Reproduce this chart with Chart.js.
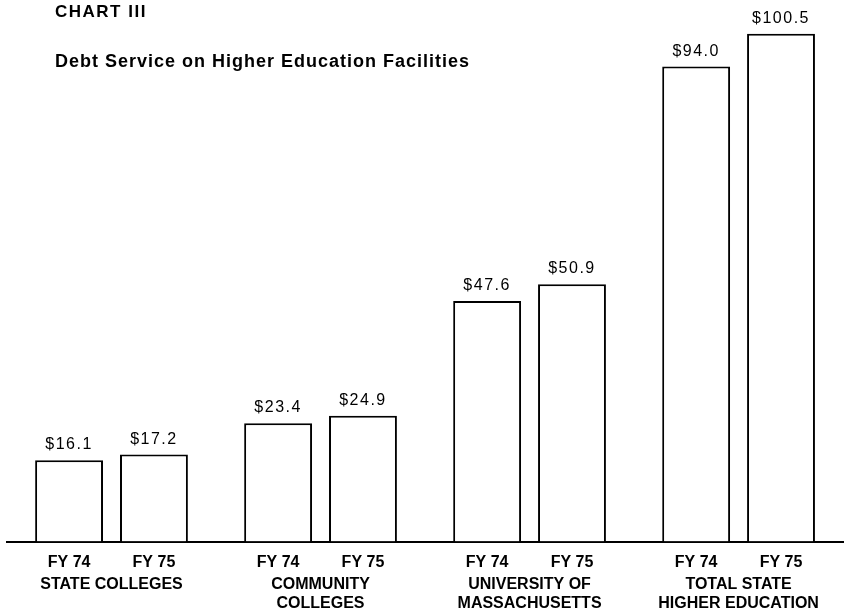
<!DOCTYPE html>
<html>
<head>
<meta charset="utf-8">
<script src="https://cdn.jsdelivr.net/npm/chart.js@4.4.0/dist/chart.umd.min.js"></script>
<style>
  html, body { margin: 0; padding: 0; background: #fff; }
</style>
</head>
<body>
<canvas id="debtChart" width="853" height="613"></canvas>
<script>
// Data (millions of dollars)
const groups = [
    ['STATE COLLEGES'],
    ['COMMUNITY', 'COLLEGES'],
    ['UNIVERSITY OF', 'MASSACHUSETTS'],
    ['TOTAL STATE', 'HIGHER EDUCATION']
];
const years = ['FY 74', 'FY 75'];
const fy74 = [16.1, 23.4, 47.6, 94.0];
const fy75 = [17.2, 24.9, 50.9, 100.5];
const valueLabels = [
    ['$16.1', '$23.4', '$47.6', '$94.0'],
    ['$17.2', '$24.9', '$50.9', '$100.5']
];

const FONT = "'Liberation Sans', Arial, Helvetica, sans-serif";

// Titles, value labels above bars and FY labels under each bar
const annotate = {
    id: 'annotate',
    afterDatasetsDraw(chart) {
        const ctx = chart.ctx;
        ctx.save();
        ctx.fillStyle = '#000';
        ctx.textAlign = 'left';
        ctx.textBaseline = 'middle';
        ctx.font = 'bold 17px ' + FONT;
        ctx.letterSpacing = '1.5px';
        ctx.fillText('CHART III', 55, 12);
        ctx.font = 'bold 18px ' + FONT;
        ctx.letterSpacing = '1px';
        ctx.fillText('Debt Service on Higher Education Facilities', 55, 62);

        ctx.textAlign = 'center';
        chart.data.datasets.forEach((ds, i) => {
            const meta = chart.getDatasetMeta(i);
            meta.data.forEach((bar, j) => {
                ctx.font = '16px ' + FONT;
                ctx.letterSpacing = '1.5px';
                ctx.textBaseline = 'alphabetic';
                ctx.fillText(valueLabels[i][j], bar.x, bar.y - 11);
                ctx.font = 'bold 16px ' + FONT;
                ctx.letterSpacing = '0px';
                ctx.textBaseline = 'middle';
                ctx.fillText(years[i], bar.x, 563);
            });
        });
        ctx.restore();
    }
};

const barStyle = {
    backgroundColor: '#fff',
    borderColor: '#000',
    borderWidth: 2,
    categoryPercentage: 0.812,
    barPercentage: 0.8
};

new Chart(document.getElementById('debtChart').getContext('2d'), {
    type: 'bar',
    data: {
        labels: groups,
        datasets: [
            Object.assign({ label: years[0], data: fy74 }, barStyle),
            Object.assign({ label: years[1], data: fy75 }, barStyle)
        ]
    },
    options: {
        responsive: false,
        animation: false,
        layout: { padding: { left: 7, right: 9, top: 10, bottom: 0 } },
        plugins: {
            legend: { display: false },
            tooltip: { enabled: false }
        },
        scales: {
            y: { display: false, min: 0, max: 105.2 },
            x: {
                grid: { display: false, drawTicks: false },
                border: { display: true, color: '#000', width: 2 },
                ticks: {
                    color: '#000',
                    padding: 33,
                    maxRotation: 0,
                    autoSkip: false,
                    font: { family: FONT, size: 16, weight: 'bold', lineHeight: 1.2 }
                },
                afterFit(scale) { scale.height = 71.5; }
            }
        }
    },
    plugins: [annotate]
});
</script>
</body>
</html>
